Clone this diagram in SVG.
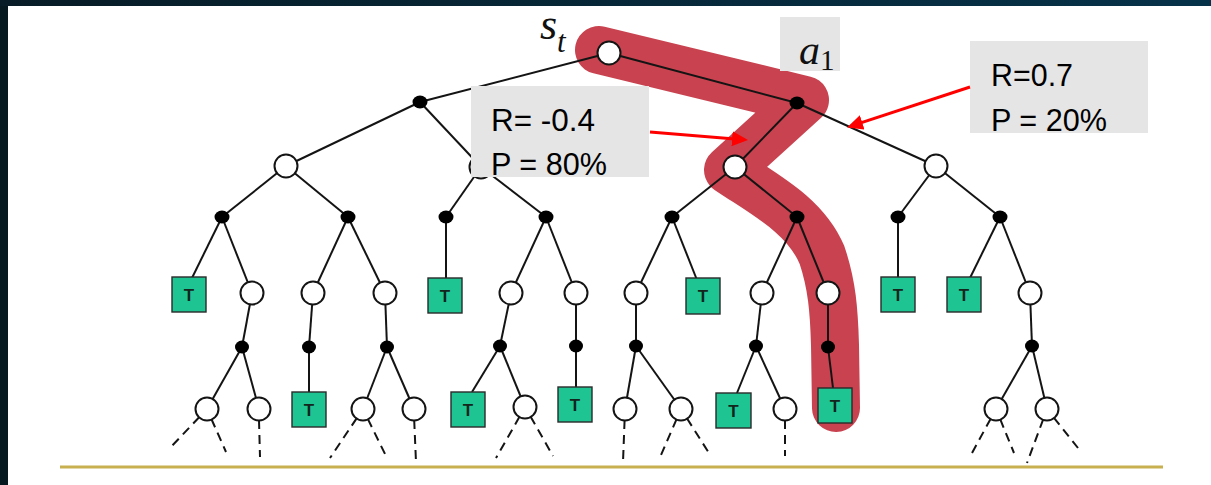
<svg xmlns="http://www.w3.org/2000/svg" width="1211" height="485" viewBox="0 0 1211 485">
  <defs>
    <linearGradient id="frameGrad" x1="0" y1="0" x2="1" y2="0">
      <stop offset="0" stop-color="#071c26"/>
      <stop offset="1" stop-color="#063249"/>
    </linearGradient>
    <marker id="redHead" markerUnits="userSpaceOnUse" markerWidth="16" markerHeight="15" refX="12" refY="7.5" orient="auto">
      <path d="M0,0 L16,7.5 L0,15 z" fill="#ff0000"/>
    </marker>
    <style>
      .edge { stroke: #141414; stroke-width: 2; fill: none; }
      .dash { stroke: #141414; stroke-width: 2; fill: none; stroke-dasharray: 9 6; }
      .state { fill: #ffffff; stroke: #141414; stroke-width: 2; }
      .chance { fill: #000000; }
      .term rect { fill: #1fc493; stroke: #2a2a2a; stroke-width: 1.4; }
      .term text { font-family: "Liberation Sans", Arial, sans-serif; font-weight: bold; font-size: 17px; fill: #14251d; text-anchor: middle; }
      .box { fill: #e5e5e5; }
      .lbl { font-family: "Liberation Sans", Arial, sans-serif; font-size: 32px; fill: #000000; }
      .math { font-family: "Liberation Serif", "Times New Roman", serif; fill: #111111; }
      .callout { stroke: #ff0000; stroke-width: 3; fill: none; }
    </style>
  </defs>

  <!-- slide frame -->
  <rect x="0" y="0" width="1211" height="485" fill="url(#frameGrad)"/>
  <rect x="0" y="6" width="8" height="479" fill="#061820"/>
  <rect x="8" y="6" width="1203" height="479" fill="#ffffff"/>

  <!-- highlighted trajectory -->
  <path id="trajectory" d="M 599 50 L 805 100 L 728 170 C 765 195, 805 215, 822 255 C 832 285, 834 310, 835 345 L 836 408"
        fill="none" stroke="#c8434f" stroke-width="48" stroke-linecap="round" stroke-linejoin="round"/>

  <!-- connectors -->
  <g id="connectors">
    <line class="edge" x1="609" y1="53" x2="420" y2="102"/>
    <line class="edge" x1="609" y1="53" x2="797" y2="103"/>
    <line class="edge" x1="420" y1="102" x2="286" y2="166"/>
    <line class="edge" x1="420" y1="102" x2="481" y2="167"/>
    <line class="edge" x1="797" y1="103" x2="735" y2="167"/>
    <line class="edge" x1="797" y1="103" x2="936" y2="166"/>

    <line class="edge" x1="286" y1="166" x2="222" y2="217"/>
    <line class="edge" x1="286" y1="166" x2="348" y2="217"/>
    <line class="edge" x1="481" y1="167" x2="446" y2="217"/>
    <line class="edge" x1="481" y1="167" x2="546" y2="217"/>
    <line class="edge" x1="735" y1="167" x2="672" y2="217"/>
    <line class="edge" x1="735" y1="167" x2="797" y2="217"/>
    <line class="edge" x1="936" y1="166" x2="898" y2="217"/>
    <line class="edge" x1="936" y1="166" x2="1000" y2="217"/>

    <line class="edge" x1="222" y1="217" x2="191" y2="280"/>
    <line class="edge" x1="222" y1="217" x2="252" y2="293"/>
    <line class="edge" x1="348" y1="217" x2="313" y2="293"/>
    <line class="edge" x1="348" y1="217" x2="385" y2="293"/>
    <line class="edge" x1="446" y1="217" x2="446" y2="280"/>
    <line class="edge" x1="546" y1="217" x2="511" y2="293"/>
    <line class="edge" x1="546" y1="217" x2="576" y2="293"/>
    <line class="edge" x1="672" y1="217" x2="636" y2="293"/>
    <line class="edge" x1="672" y1="217" x2="697" y2="280"/>
    <line class="edge" x1="797" y1="217" x2="762" y2="293"/>
    <line class="edge" x1="797" y1="217" x2="828" y2="293"/>
    <line class="edge" x1="898" y1="217" x2="898" y2="280"/>
    <line class="edge" x1="1000" y1="217" x2="969" y2="280"/>
    <line class="edge" x1="1000" y1="217" x2="1030" y2="293"/>

    <line class="edge" x1="252" y1="293" x2="242" y2="347"/>
    <line class="edge" x1="313" y1="293" x2="309" y2="347"/>
    <line class="edge" x1="385" y1="293" x2="387" y2="347"/>
    <line class="edge" x1="511" y1="293" x2="500" y2="346"/>
    <line class="edge" x1="576" y1="293" x2="576" y2="346"/>
    <line class="edge" x1="636" y1="293" x2="636" y2="346"/>
    <line class="edge" x1="762" y1="293" x2="756" y2="346"/>
    <line class="edge" x1="828" y1="293" x2="828" y2="347"/>
    <line class="edge" x1="1030" y1="293" x2="1032" y2="346"/>

    <line class="edge" x1="242" y1="347" x2="207" y2="409"/>
    <line class="edge" x1="242" y1="347" x2="259" y2="409"/>
    <line class="edge" x1="309" y1="347" x2="309" y2="392"/>
    <line class="edge" x1="387" y1="347" x2="363" y2="409"/>
    <line class="edge" x1="387" y1="347" x2="414" y2="409"/>
    <line class="edge" x1="500" y1="346" x2="472" y2="392"/>
    <line class="edge" x1="500" y1="346" x2="525" y2="407"/>
    <line class="edge" x1="576" y1="346" x2="576" y2="387"/>
    <line class="edge" x1="636" y1="346" x2="625" y2="409"/>
    <line class="edge" x1="636" y1="346" x2="681" y2="409"/>
    <line class="edge" x1="756" y1="346" x2="737" y2="393"/>
    <line class="edge" x1="756" y1="346" x2="785" y2="409"/>
    <line class="edge" x1="828" y1="347" x2="833" y2="388"/>
    <line class="edge" x1="1032" y1="346" x2="996" y2="409"/>
    <line class="edge" x1="1032" y1="346" x2="1047" y2="409"/>

    <!-- truncated continuations -->
    <line class="dash" x1="199.4" y1="417" x2="170" y2="448"/>
    <line class="dash" x1="211.4" y1="419" x2="226" y2="452"/>
    <line class="dash" x1="259" y1="420" x2="260" y2="457"/>
    <line class="dash" x1="356.8" y1="418.1" x2="330" y2="458"/>
    <line class="dash" x1="367.8" y1="418.9" x2="387" y2="458"/>
    <line class="dash" x1="414.2" y1="420" x2="416" y2="462"/>
    <line class="dash" x1="519.6" y1="416.6" x2="496" y2="458"/>
    <line class="dash" x1="530.5" y1="416.5" x2="553" y2="456"/>
    <line class="dash" x1="624.6" y1="420" x2="623" y2="462"/>
    <line class="dash" x1="676.6" y1="419.1" x2="661" y2="455"/>
    <line class="dash" x1="686.9" y1="418.3" x2="709" y2="453"/>
    <line class="dash" x1="785" y1="420" x2="785" y2="456"/>
    <line class="dash" x1="990.7" y1="418.7" x2="972" y2="453"/>
    <line class="dash" x1="1000.2" y1="419.2" x2="1014" y2="453"/>
    <line class="dash" x1="1043.2" y1="419.3" x2="1027" y2="463"/>
    <line class="dash" x1="1053.8" y1="417.6" x2="1078" y2="448"/>
  </g>

  <!-- state nodes -->
  <g id="root"><circle class="state" cx="609" cy="53" r="11.5"/></g>
  <g id="s-l2-1"><circle class="state" cx="286" cy="166" r="11.5"/></g>
  <g id="s-l2-2"><circle class="state" cx="481" cy="167" r="11.5"/></g>
  <g id="s-l2-3"><circle class="state" cx="735" cy="167" r="11.5"/></g>
  <g id="s-l2-4"><circle class="state" cx="936" cy="166" r="11.5"/></g>
  <g id="s-l4-1"><circle class="state" cx="252" cy="293" r="11.5"/></g>
  <g id="s-l4-2"><circle class="state" cx="313" cy="293" r="11.5"/></g>
  <g id="s-l4-3"><circle class="state" cx="385" cy="293" r="11.5"/></g>
  <g id="s-l4-4"><circle class="state" cx="511" cy="293" r="11.5"/></g>
  <g id="s-l4-5"><circle class="state" cx="576" cy="293" r="11.5"/></g>
  <g id="s-l4-6"><circle class="state" cx="636" cy="293" r="11.5"/></g>
  <g id="s-l4-7"><circle class="state" cx="762" cy="293" r="11.5"/></g>
  <g id="s-l4-8"><circle class="state" cx="828" cy="293" r="11.5"/></g>
  <g id="s-l4-9"><circle class="state" cx="1030" cy="293" r="11.5"/></g>
  <g id="s-l6-1"><circle class="state" cx="207" cy="409" r="11.5"/></g>
  <g id="s-l6-2"><circle class="state" cx="259" cy="409" r="11.5"/></g>
  <g id="s-l6-3"><circle class="state" cx="363" cy="409" r="11.5"/></g>
  <g id="s-l6-4"><circle class="state" cx="414" cy="409" r="11.5"/></g>
  <g id="s-l6-5"><circle class="state" cx="525" cy="407" r="11.5"/></g>
  <g id="s-l6-6"><circle class="state" cx="625" cy="409" r="11.5"/></g>
  <g id="s-l6-7"><circle class="state" cx="681" cy="409" r="11.5"/></g>
  <g id="s-l6-8"><circle class="state" cx="785" cy="409" r="11.5"/></g>
  <g id="s-l6-9"><circle class="state" cx="996" cy="409" r="11.5"/></g>
  <g id="s-l6-10"><circle class="state" cx="1047" cy="409" r="11.5"/></g>

  <!-- chance nodes -->
  <g id="c-l1-1"><ellipse class="chance" cx="420" cy="102" rx="7.5" ry="6.5"/></g>
  <g id="c-l1-2"><ellipse class="chance" cx="797" cy="103" rx="7.5" ry="6.5"/></g>
  <g id="c-l3-1"><ellipse class="chance" cx="222" cy="217" rx="7.5" ry="6.5"/></g>
  <g id="c-l3-2"><ellipse class="chance" cx="348" cy="217" rx="7.5" ry="6.5"/></g>
  <g id="c-l3-3"><ellipse class="chance" cx="446" cy="217" rx="7.5" ry="6.5"/></g>
  <g id="c-l3-4"><ellipse class="chance" cx="546" cy="217" rx="7.5" ry="6.5"/></g>
  <g id="c-l3-5"><ellipse class="chance" cx="672" cy="217" rx="7.5" ry="6.5"/></g>
  <g id="c-l3-6"><ellipse class="chance" cx="797" cy="217" rx="7.5" ry="6.5"/></g>
  <g id="c-l3-7"><ellipse class="chance" cx="898" cy="217" rx="7.5" ry="6.5"/></g>
  <g id="c-l3-8"><ellipse class="chance" cx="1000" cy="217" rx="7.5" ry="6.5"/></g>
  <g id="c-l5-1"><ellipse class="chance" cx="242" cy="347" rx="7" ry="6.5"/></g>
  <g id="c-l5-2"><ellipse class="chance" cx="309" cy="347" rx="7" ry="6.5"/></g>
  <g id="c-l5-3"><ellipse class="chance" cx="387" cy="347" rx="7" ry="6.5"/></g>
  <g id="c-l5-4"><ellipse class="chance" cx="500" cy="346" rx="7" ry="6.5"/></g>
  <g id="c-l5-5"><ellipse class="chance" cx="576" cy="346" rx="7" ry="6.5"/></g>
  <g id="c-l5-6"><ellipse class="chance" cx="636" cy="346" rx="7" ry="6.5"/></g>
  <g id="c-l5-7"><ellipse class="chance" cx="756" cy="346" rx="7" ry="6.5"/></g>
  <g id="c-l5-8"><ellipse class="chance" cx="828" cy="347" rx="7" ry="6.5"/></g>
  <g id="c-l5-9"><ellipse class="chance" cx="1032" cy="346" rx="7" ry="6.5"/></g>

  <!-- terminal states -->
  <g id="t-1" class="term"><rect x="172" y="277" width="34" height="35"/><text x="189" y="300.5">T</text></g>
  <g id="t-2" class="term"><rect x="428" y="278" width="34" height="35"/><text x="445" y="301.5">T</text></g>
  <g id="t-3" class="term"><rect x="686" y="278" width="34" height="36"/><text x="703" y="302">T</text></g>
  <g id="t-4" class="term"><rect x="881" y="277" width="34" height="35"/><text x="898" y="300.5">T</text></g>
  <g id="t-5" class="term"><rect x="947" y="277" width="34" height="35"/><text x="964" y="300.5">T</text></g>
  <g id="t-6" class="term"><rect x="292" y="392" width="34" height="35"/><text x="309" y="415.5">T</text></g>
  <g id="t-7" class="term"><rect x="451" y="392" width="34" height="35"/><text x="468" y="415.5">T</text></g>
  <g id="t-8" class="term"><rect x="558" y="387" width="34" height="35"/><text x="575" y="410.5">T</text></g>
  <g id="t-9" class="term"><rect x="716" y="393" width="35" height="35"/><text x="733.5" y="416.5">T</text></g>
  <g id="t-10" class="term"><rect x="818" y="388" width="34" height="35"/><text x="835" y="411.5">T</text></g>

  <!-- state / action labels -->
  <g id="state-label">
    <text class="math" x="540" y="39" font-size="44" font-style="italic">s</text>
    <text class="math" x="557" y="52" font-size="31" font-style="italic">t</text>
  </g>
  <g id="action-label">
    <rect class="box" x="780" y="17" width="60" height="54"/>
    <text class="math" x="799" y="64" font-size="42" font-style="italic">a</text>
    <text class="math" x="820" y="70" font-size="29">1</text>
  </g>

  <!-- reward / probability call-outs -->
  <g id="callout-low">
    <rect class="box" x="471" y="86" width="178" height="91"/>
    <text class="lbl" x="491" y="131" textLength="104" lengthAdjust="spacingAndGlyphs">R= -0.4</text>
    <text class="lbl" x="491" y="175" textLength="116" lengthAdjust="spacingAndGlyphs">P = 80%</text>
  </g>
  <g id="callout-high">
    <rect class="box" x="970" y="41" width="178" height="92"/>
    <text class="lbl" x="991" y="86" textLength="82" lengthAdjust="spacingAndGlyphs">R=0.7</text>
    <text class="lbl" x="991" y="131" textLength="116" lengthAdjust="spacingAndGlyphs">P = 20%</text>
  </g>
  <g id="callout-arrows">
    <line class="callout" x1="650" y1="132" x2="744" y2="139.7" marker-end="url(#redHead)"/>
    <line class="callout" x1="970" y1="87" x2="850.8" y2="126.2" marker-end="url(#redHead)"/>
  </g>

  <!-- horizon line -->
  <line x1="60" y1="467" x2="1163" y2="467" stroke="#c8b050" stroke-width="3"/>
</svg>
